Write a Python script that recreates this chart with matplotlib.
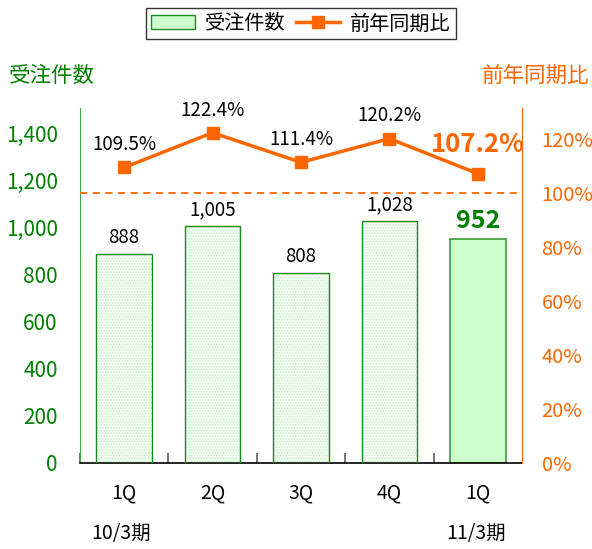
import matplotlib
matplotlib.use('Agg')
import matplotlib.pyplot as plt
from matplotlib.patches import Patch
from matplotlib.lines import Line2D

plt.rcParams['font.family'] = ['Noto Sans CJK JP', 'DejaVu Sans']
plt.rcParams['hatch.linewidth'] = 0.8

quarters = ['1Q', '2Q', '3Q', '4Q', '1Q']
orders = [888, 1005, 808, 1028, 952]
yoy = [109.5, 122.4, 111.4, 120.2, 107.2]
order_labels = ['888', '1,005', '808', '1,028', '952']
yoy_labels = ['109.5%', '122.4%', '111.4%', '120.2%', '107.2%']
left_ticks = [0, 200, 400, 600, 800, 1000, 1200, 1400]
right_ticks = [0, 20, 40, 60, 80, 100, 120]

GREEN = '#008000'
ORANGE = '#ff6600'

fig = plt.figure(figsize=(5.92, 5.49), dpi=100)
ax = fig.add_axes([0.135, 0.157, 0.747, 0.646])
ax2 = ax.twinx()

x = list(range(len(orders)))
n = len(orders)
# past quarters: light dotted fill, current quarter: solid light green
ax.bar(x[:-1], orders[:-1], width=0.63, color='#f3fdf3', edgecolor='#cdeecd',
       linewidth=0, hatch='......', zorder=2)
ax.bar(x[:-1], orders[:-1], width=0.63, fill=False, edgecolor='#1a8a1a',
       linewidth=1.0, zorder=3)
ax.bar(x[-1], orders[-1], width=0.63, color='#ccffcc', edgecolor='#3a9e3a',
       linewidth=1.2, zorder=2)

for i, v in enumerate(orders):
    if i == n - 1:
        ax.text(i, v + 25, order_labels[i], ha='center', va='bottom', fontsize=18,
                fontweight='bold', color=GREEN)
    else:
        ax.text(i, v + 25, order_labels[i], ha='center', va='bottom', fontsize=13.5, color='black')

ax.set_xlim(-0.5, n - 0.5)
ax.set_ylim(0, 1506)
ax.set_yticks(left_ticks)
ax.set_yticklabels([f'{t:,}' for t in left_ticks], fontsize=15, color=GREEN)
ax.tick_params(axis='y', length=0, pad=16)
ax.set_xticks([i - 0.5 for i in x])
ax.set_xticklabels([])
ax.tick_params(axis='x', direction='in', length=7, color='#777777', width=1.5)
for i, q in enumerate(quarters):
    ax.text(i, -0.085, q, transform=ax.get_xaxis_transform(), ha='center', va='center',
            fontsize=14)
ax.text(-0.03, -0.2, '10/3期', transform=ax.get_xaxis_transform(), ha='center',
        va='center', fontsize=14)
ax.text(3.98, -0.2, '11/3期', transform=ax.get_xaxis_transform(), ha='center',
        va='center', fontsize=14)

ax.spines['top'].set_visible(False)
ax.spines['right'].set_visible(False)
ax.spines['left'].set_color('#44aa44')
ax.spines['bottom'].set_color('black')
ax.spines['bottom'].set_linewidth(1.2)

ax2.plot(x, yoy, color=ORANGE, linewidth=2.5, marker='s', markersize=9, zorder=5)
ax2.axhline(100, color=ORANGE, linestyle=(0, (4, 3)), linewidth=1.3)
for i, v in enumerate(yoy):
    if i == n - 1:
        ax2.text(i, v + 6, yoy_labels[i], ha='center', va='bottom', fontsize=18.5,
                 fontweight='bold', color=ORANGE)
    else:
        ax2.text(i, v + 4.5, yoy_labels[i], ha='center', va='bottom', fontsize=13.5,
                 color='black')
ax2.set_ylim(0, 131.5)
ax2.set_yticks(right_ticks)
ax2.set_yticklabels([f'{t}%' for t in right_ticks], fontsize=14.5, color=ORANGE)
ax2.tick_params(axis='y', length=0, pad=14)
ax2.spines['top'].set_visible(False)
ax2.spines['left'].set_visible(False)
ax2.spines['bottom'].set_visible(False)
ax2.spines['right'].set_color(ORANGE)

fig.text(0.015, 0.862, '受注件数', fontsize=15.5, color=GREEN, ha='left', va='center')
fig.text(0.995, 0.862, '前年同期比', fontsize=15.5, color=ORANGE, ha='right', va='center')

handles = [Patch(facecolor='#ccffcc', edgecolor='#1a8a1a', label='受注件数'),
           Line2D([], [], color=ORANGE, linewidth=2.5, marker='s', markersize=9, label='前年同期比')]
fig.legend(handles=handles, loc='upper center', bbox_to_anchor=(0.508, 1.003), ncol=2,
           fontsize=14.5, frameon=True, fancybox=False, edgecolor='black',
           handlelength=2.2, handletextpad=0.5, columnspacing=0.5, borderpad=0.25)

fig.savefig('out.png', dpi=100)
